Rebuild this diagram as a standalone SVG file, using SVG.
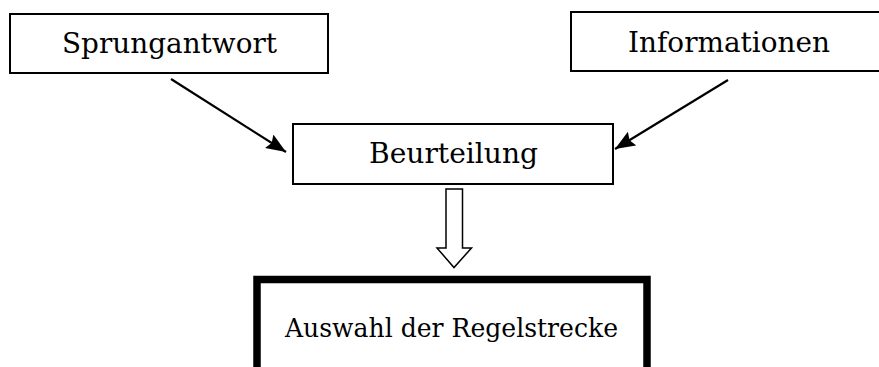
<svg xmlns="http://www.w3.org/2000/svg" width="879" height="367" viewBox="0 0 879 367">
<defs>
<style>
.box{fill:#fff;stroke:#000;stroke-width:2}
.thick{fill:#fff;stroke:#000;stroke-width:7.5}
.lbl{font-family:"DejaVu Serif","Liberation Serif",serif;font-size:27px;fill:#000}
.conn{stroke:#000;stroke-width:2.2;fill:none}
</style>
<marker id="ah2" viewBox="0 0 20 16" refX="20" refY="8" markerWidth="20" markerHeight="16" markerUnits="userSpaceOnUse" orient="auto">
<path d="M0,0 L20,8 L0,16 L3,8 z" fill="#000"/>
</marker>
</defs>
<rect width="879" height="367" fill="#fff"/>
<g id="sprungantwort">
<rect class="box" x="10" y="14" width="318" height="59"/>
<text class="lbl" x="62" y="53" textLength="215" lengthAdjust="spacingAndGlyphs">Sprungantwort</text>
</g>
<g id="informationen">
<rect class="box" x="571" y="12" width="320" height="59"/>
<text class="lbl" x="628" y="52" textLength="202" lengthAdjust="spacingAndGlyphs">Informationen</text>
</g>
<g id="beurteilung">
<rect class="box" x="293" y="124" width="320" height="60"/>
<text class="lbl" x="369" y="163" textLength="169" lengthAdjust="spacingAndGlyphs">Beurteilung</text>
</g>
<g id="auswahl">
<rect class="thick" x="257" y="279.5" width="390" height="110"/>
<text class="lbl" x="285" y="337" style="font-size:25.5px" textLength="333" lengthAdjust="spacingAndGlyphs">Auswahl der Regelstrecke</text>
</g>
<g id="connectors">
<line class="conn" x1="171" y1="79" x2="286" y2="152" marker-end="url(#ah2)"/>
<line class="conn" x1="728" y1="80" x2="615" y2="149" marker-end="url(#ah2)"/>
<path d="M446,189 L462.5,189 L462.5,248 L471.5,248 L454,267.5 L437,248 L446,248 Z" fill="#fff" stroke="#000" stroke-width="1.5" stroke-linejoin="miter"/>
</g>
</svg>
